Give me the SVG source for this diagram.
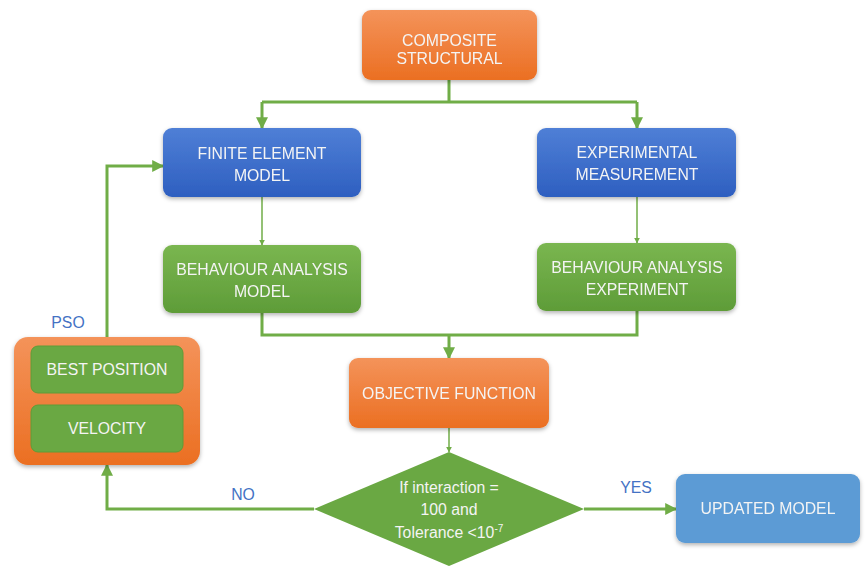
<svg xmlns="http://www.w3.org/2000/svg" width="867" height="571" viewBox="0 0 867 571">
<defs>
<linearGradient id="gOr" x1="0" y1="0" x2="0" y2="1"><stop offset="0" stop-color="#F4935A"/><stop offset="1" stop-color="#EB6F22"/></linearGradient>
<linearGradient id="gBl" x1="0" y1="0" x2="0" y2="1"><stop offset="0" stop-color="#4F7FD6"/><stop offset="1" stop-color="#2E5FC0"/></linearGradient>
<linearGradient id="gGr" x1="0" y1="0" x2="0" y2="1"><stop offset="0" stop-color="#7AB650"/><stop offset="1" stop-color="#5E9C38"/></linearGradient>
<filter id="sh" x="-10%" y="-10%" width="120%" height="130%"><feDropShadow dx="0" dy="2" stdDeviation="2" flood-color="#000" flood-opacity="0.3"/></filter>
<marker id="ar" viewBox="0 0 10 10" refX="9" refY="5" markerWidth="4" markerHeight="4" orient="auto"><path d="M0,0 L10,5 L0,10 z" fill="#70AD47"/></marker>
<style>
.t{font-family:"Liberation Sans",Arial,sans-serif;font-size:15.8px;fill:#F4F4F4;text-anchor:middle}
.l{font-family:"Liberation Sans",Arial,sans-serif;font-size:15.8px;fill:#4472C4;text-anchor:middle}
.c{fill:none;stroke:#70AD47;stroke-width:3}
.ca{fill:none;stroke:#70AD47;stroke-width:3;marker-end:url(#ar)}
.thin{fill:none;stroke:#70AD47;stroke-width:1.5;marker-end:url(#ar)}
</style>
</defs>
<rect width="867" height="571" fill="#fff"/>
<g id="connectors">
<path class="c" d="M449,80 V102 H262 M449,102 H637"/>
<path class="ca" d="M262,102 V128"/>
<path class="ca" d="M637,102 V128"/>
<path class="thin" d="M262,197 V245"/>
<path class="thin" d="M637,197 V243"/>
<path class="c" d="M262,313 V335 H637 V311"/>
<path class="ca" d="M449,335 V358"/>
<path class="thin" d="M449,428 V452"/>
<path class="ca" d="M584,509 H676"/>
<path class="ca" d="M314,509 H107 V465"/>
<path class="ca" d="M107,337 V166 H163"/>
</g>
<g id="composite" filter="url(#sh)"><rect x="362" y="10" width="175" height="70" rx="9" fill="url(#gOr)"/>
<text class="t" x="449.5" y="46">COMPOSITE</text><text class="t" x="449.5" y="64">STRUCTURAL</text></g>
<g id="fem" filter="url(#sh)"><rect x="163" y="128" width="198" height="69" rx="9" fill="url(#gBl)"/>
<text class="t" x="262" y="159">FINITE ELEMENT</text><text class="t" x="262" y="181">MODEL</text></g>
<g id="exp" filter="url(#sh)"><rect x="537" y="128" width="199" height="69" rx="9" fill="url(#gBl)"/>
<text class="t" x="637" y="158">EXPERIMENTAL</text><text class="t" x="637" y="180">MEASUREMENT</text></g>
<g id="bam" filter="url(#sh)"><rect x="163" y="245" width="198" height="68" rx="9" fill="url(#gGr)"/>
<text class="t" x="262" y="275">BEHAVIOUR ANALYSIS</text><text class="t" x="262" y="297">MODEL</text></g>
<g id="bae" filter="url(#sh)"><rect x="537" y="243" width="199" height="68" rx="9" fill="url(#gGr)"/>
<text class="t" x="637" y="273">BEHAVIOUR ANALYSIS</text><text class="t" x="637" y="295">EXPERIMENT</text></g>
<g id="objective" filter="url(#sh)"><rect x="349" y="358" width="200" height="70" rx="9" fill="url(#gOr)"/>
<text class="t" x="449" y="399">OBJECTIVE FUNCTION</text></g>
<g id="decision"><path d="M449,452 L584,509 L449,566 L314,509 Z" fill="#6AA843"/>
<text class="t" x="449" y="493">If interaction =</text><text class="t" x="449" y="515">100 and</text>
<text class="t" x="449" y="538">Tolerance &lt;10<tspan font-size="10" dy="-6">-7</tspan></text></g>
<g id="updated" filter="url(#sh)"><rect x="676" y="474" width="184" height="69" rx="9" fill="#5B9BD5"/>
<text class="t" x="768" y="514">UPDATED MODEL</text></g>
<g id="pso">
<text class="l" x="68" y="328">PSO</text>
<rect x="14" y="337" width="186" height="128" rx="14" fill="url(#gOr)" filter="url(#sh)"/>
<rect x="31" y="346" width="152" height="47" rx="7" fill="#6AA843" stroke="#5E9C38"/>
<text class="t" x="107" y="375">BEST POSITION</text>
<rect x="31" y="405" width="152" height="47" rx="7" fill="#6AA843" stroke="#5E9C38"/>
<text class="t" x="107" y="434">VELOCITY</text>
</g>
<g id="labels"><text class="l" x="243" y="500">NO</text><text class="l" x="636" y="493">YES</text></g>
</svg>
